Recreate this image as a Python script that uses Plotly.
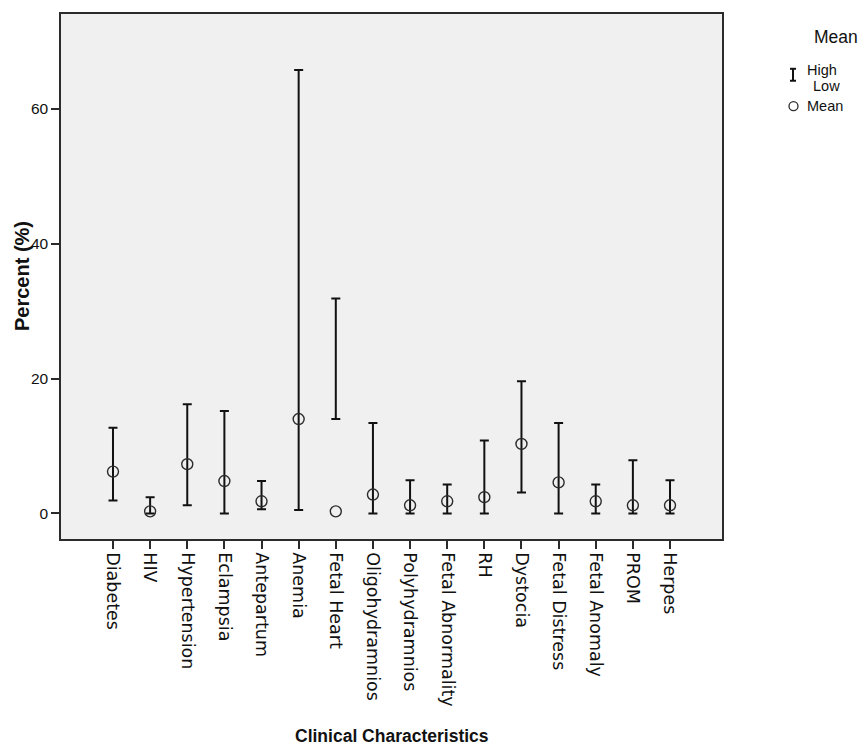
import plotly.graph_objects as go

# Clinical characteristics and their mean percentage with high / low bounds
categories = ["Diabetes", "HIV", "Hypertension", "Eclampsia", "Antepartum", "Anemia",
              "Fetal Heart", "Oligohydramnios", "Polyhydramnios", "Fetal Abnormality",
              "RH", "Dystocia", "Fetal Distress", "Fetal Anomaly", "PROM", "Herpes"]
mean_pct = [6.2, 0.3, 7.3, 4.8, 1.8, 14.0, 0.3, 2.8, 1.2, 1.8, 2.4, 10.3, 4.6, 1.8, 1.2, 1.2]
high_pct = [12.7, 2.4, 16.2, 15.2, 4.8, 65.8, 31.9, 13.4, 4.9, 4.3, 10.8, 19.6, 13.4, 4.3, 7.9, 4.9]
low_pct = [1.9, 0.0, 1.2, 0.0, 0.6, 0.5, 14.0, 0.0, 0.0, 0.0, 0.0, 3.1, 0.0, 0.0, 0.0, 0.0]
y_ticks = [0, 20, 40, 60]

FONT = "Liberation Sans, Arial, sans-serif"
LABEL_FONT = "DejaVu Sans, Verdana, sans-serif"
INK = "#2b2b2b"

# plot-area geometry in pixels (used to place the hand-built legend and titles)
W, H = 865, 752
L, R, T, B = 61, 722, 12, 539


def px(x):
    return (x - L) / (R - L)


def py(y):
    return (B - y) / (B - T)


fig = go.Figure()

# High-Low bars: hat at the high value, shoe at the low value
fig.add_trace(go.Scatter(
    x=categories, y=high_pct, mode="markers",
    marker=dict(size=1, opacity=0),
    error_y=dict(type="data", symmetric=False,
                 array=[0] * len(categories),
                 arrayminus=[h - l for h, l in zip(high_pct, low_pct)],
                 color="#111111", thickness=2, width=4.5),
    showlegend=False, hoverinfo="skip",
))

# Mean markers
fig.add_trace(go.Scatter(
    x=categories, y=mean_pct, mode="markers",
    marker=dict(symbol="circle-open", size=11, color=INK, line=dict(width=1.4, color=INK)),
    showlegend=False,
))

fig.update_xaxes(
    type="category", range=[-1.4, len(categories) + 0.4],
    showline=True, mirror=True, linecolor=INK, linewidth=1.5,
    ticks="outside", ticklen=8, tickwidth=1.5, tickcolor=INK,
    tickangle=90, tickfont=dict(family=LABEL_FONT, size=17.5, color="#111111"),
    showgrid=False, zeroline=False,
)
fig.update_yaxes(
    range=[-3.8, 74.1], tickvals=y_ticks,
    showline=True, mirror=True, linecolor=INK, linewidth=1.5,
    ticks="outside", ticklen=8, tickwidth=1.5, tickcolor=INK,
    tickfont=dict(family=FONT, size=15.5, color="#111111"),
    showgrid=False, zeroline=False,
)

annotations = [
    dict(text="<b>Percent (%)</b>", x=px(22), y=py(275), xref="paper", yref="paper",
         textangle=-90, showarrow=False, xanchor="center", yanchor="middle",
         font=dict(family=FONT, size=20, color="#111111")),
    dict(text="<b>Clinical Characteristics</b>", x=0.5, y=py(737), xref="paper", yref="paper",
         showarrow=False, xanchor="center", yanchor="middle",
         font=dict(family=FONT, size=17.5, color="#111111")),
    # legend
    dict(text="Mean", x=px(836), y=py(35), xref="paper", yref="paper",
         showarrow=False, xanchor="center", yanchor="middle",
         font=dict(family=FONT, size=17.5, color="#111111")),
    dict(text="High", x=px(805), y=py(68), xref="paper", yref="paper",
         showarrow=False, xanchor="left", yanchor="middle",
         font=dict(family=FONT, size=14.5, color="#111111")),
    dict(text="Low", x=px(811), y=py(84), xref="paper", yref="paper",
         showarrow=False, xanchor="left", yanchor="middle",
         font=dict(family=FONT, size=14.5, color="#111111")),
    dict(text="Mean", x=px(805), y=py(104), xref="paper", yref="paper",
         showarrow=False, xanchor="left", yanchor="middle",
         font=dict(family=FONT, size=14.5, color="#111111")),
]

legend_line = dict(color="#111111", width=2)
shapes = [
    dict(type="line", xref="paper", yref="paper", x0=px(793), x1=px(793), y0=py(67), y1=py(79), line=legend_line),
    dict(type="line", xref="paper", yref="paper", x0=px(790), x1=px(796), y0=py(67), y1=py(67), line=legend_line),
    dict(type="line", xref="paper", yref="paper", x0=px(790), x1=px(796), y0=py(79), y1=py(79), line=legend_line),
    dict(type="circle", xref="paper", yref="paper", x0=px(789), x1=px(798), y0=py(100), y1=py(109),
         line=dict(color=INK, width=1.3)),
]

fig.update_layout(
    width=W, height=H,
    margin=dict(l=L, r=W - R, t=T, b=H - B),
    plot_bgcolor="#f0f0f0", paper_bgcolor="white",
    annotations=annotations, shapes=shapes,
    showlegend=False,
)

fig.write_html("out.html")
